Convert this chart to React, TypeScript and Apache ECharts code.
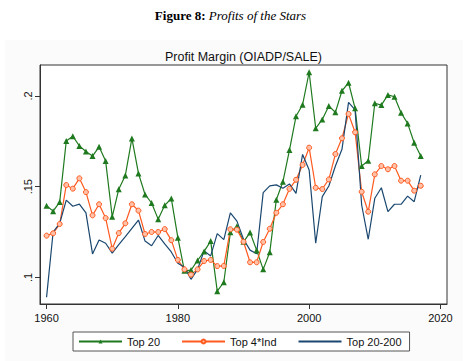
import React, { useEffect, useRef } from "react";
import * as echarts from "echarts";

const years: number[] = [];
for (let y = 1960; y <= 2017; y++) years.push(y);

const top20 = [
  0.1395, 0.1365, 0.1415, 0.1752, 0.1778, 0.1725, 0.1694, 0.1669, 0.172, 0.1641,
  0.1334, 0.1486, 0.1562, 0.1766, 0.1573, 0.1457, 0.141, 0.1321, 0.1397, 0.1435,
  0.1219, 0.1036, 0.104, 0.1093, 0.1143, 0.12, 0.0924, 0.0973, 0.1248, 0.1282,
  0.1196, 0.1247, 0.115, 0.1044, 0.1138, 0.1428, 0.1527, 0.1702, 0.1888, 0.1952,
  0.2131, 0.1822, 0.1871, 0.1945, 0.191, 0.2029, 0.2073, 0.1932, 0.1614, 0.1643,
  0.196, 0.195, 0.2006, 0.1996, 0.1908, 0.1849, 0.1742, 0.1669,
];

const top4Ind = [
  0.123, 0.1243, 0.1294, 0.1509, 0.1489, 0.1546, 0.147, 0.1342, 0.1403, 0.1327,
  0.1158, 0.1244, 0.1298, 0.1403, 0.1368, 0.1239, 0.125, 0.125, 0.1266, 0.1205,
  0.1096, 0.1044, 0.1015, 0.1044, 0.109, 0.1096, 0.1062, 0.1063, 0.1265, 0.1263,
  0.1196, 0.1083, 0.1083, 0.1195, 0.1268, 0.1356, 0.1403, 0.1488, 0.1538, 0.162,
  0.1715, 0.1494, 0.1487, 0.154, 0.168, 0.1767, 0.1901, 0.18, 0.1472, 0.1362,
  0.1568, 0.1614, 0.1596, 0.1614, 0.1533, 0.1533, 0.1478, 0.1505,
];

const top20to200 = [
  0.089, 0.125, 0.1298, 0.1426, 0.1392, 0.1404, 0.1356, 0.1129, 0.1206, 0.1188,
  0.1134, 0.118, 0.1224, 0.127, 0.1316, 0.12, 0.1174, 0.1231, 0.1184, 0.114,
  0.1078, 0.1056, 0.0989, 0.1044, 0.1146, 0.1118, 0.1241, 0.1208, 0.1355, 0.131,
  0.121, 0.115, 0.113, 0.1467, 0.1504, 0.151, 0.1491, 0.1515, 0.1463, 0.1678,
  0.1592, 0.1188, 0.1445, 0.1504, 0.1614, 0.1706, 0.1965, 0.1923, 0.1399, 0.121,
  0.1436, 0.1494, 0.1362, 0.1403, 0.1403, 0.1448, 0.1417, 0.1564,
];

const xTicks = [1960, 1980, 2000, 2020];
const yTicks = [0.1, 0.15, 0.2];
const yTickLabels = [".1", ".15", ".2"];

const GREEN = "#1f7a1f";
const ORANGE = "#ff5a1f";
const NAVY = "#1a476f";
const SANS = "Liberation Sans";

export default function App() {
  const ref = useRef<HTMLDivElement>(null);
  useEffect(() => {
    if (!ref.current) return;
    const chart = echarts.init(ref.current, undefined, { renderer: "svg" });
    const pair = (arr: number[]) => years.map((y, i) => [y, arr[i]]);
    chart.setOption({
      animation: false,
      backgroundColor: "#ffffff",
      textStyle: { fontFamily: SANS },
      graphic: [
        {
          type: "rect",
          z: -10,
          shape: { x: 5, y: 40, width: 458, height: 321 },
          style: { fill: "#fbfbfb" },
          silent: true,
        },
        {
          type: "rect",
          z: -9,
          shape: { x: 40, y: 65, width: 407, height: 239 },
          style: { fill: "#ffffff" },
          silent: true,
        },
        {
          type: "text",
          x: 230.5,
          y: 15,
          style: {
            text: "{b|Figure 8:} {i|Profits of the Stars}",
            align: "center",
            verticalAlign: "middle",
            fontFamily: "Liberation Serif",
            fontSize: 13,
            fill: "#000",
            rich: {
              b: { fontFamily: "Liberation Serif", fontSize: 13, fontWeight: "bold", fill: "#000" },
              i: { fontFamily: "Liberation Serif", fontSize: 13, fontStyle: "italic", fill: "#000" },
            },
          },
        },
        {
          type: "text",
          x: 243.5,
          y: 57,
          style: {
            text: "Profit Margin (OIADP/SALE)",
            align: "center",
            verticalAlign: "middle",
            fontFamily: SANS,
            fontSize: 12.5,
            fill: "#111",
          },
        },
      ],
      grid: {
        left: 40,
        top: 65,
        width: 407,
        height: 239,
        show: true,
        borderColor: "#333",
        borderWidth: 1,
        backgroundColor: "transparent",
      },
      legend: {
        left: 73,
        top: 332,
        orient: "horizontal",
        padding: [4, 8, 4, 5],
        itemGap: 21,
        itemWidth: 43,
        itemHeight: 5,
        borderColor: "#555",
        borderWidth: 1,
        backgroundColor: "#fff",
        textStyle: { fontFamily: SANS, fontSize: 11, color: "#111" },
        data: [
          { name: "Top 20" },
          { name: "Top 4*Ind" },
          { name: "Top 20-200", itemStyle: { opacity: 0 } },
        ],
      },
      xAxis: {
        type: "value",
        min: 1959,
        max: 2021,
        splitLine: { show: false },
        axisLine: { show: true, lineStyle: { color: "#333", width: 1 } },
        axisTick: {
          show: true,
          length: 5,
          lineStyle: { color: "#333" },
          customValues: xTicks,
        },
        axisLabel: {
          customValues: xTicks,
          fontFamily: SANS,
          fontSize: 11,
          color: "#111",
          margin: 8,
          formatter: (v: number) => String(v),
        },
      },
      yAxis: {
        type: "value",
        min: 0.0853,
        max: 0.2171,
        splitLine: { show: false },
        axisLine: { show: true, lineStyle: { color: "#333", width: 1 } },
        axisTick: {
          show: true,
          length: 5,
          lineStyle: { color: "#333" },
          customValues: yTicks,
        },
        axisLabel: {
          customValues: yTicks,
          rotate: 90,
          fontFamily: SANS,
          fontSize: 11,
          color: "#111",
          margin: 7,
          formatter: (v: number) => {
            const idx = yTicks.findIndex((t) => Math.abs(t - v) < 1e-6);
            return idx >= 0 ? yTickLabels[idx] : "";
          },
        },
      },
      series: [
        {
          name: "Top 20",
          type: "line",
          data: pair(top20),
          symbol: "triangle",
          symbolSize: 6,
          lineStyle: { color: GREEN, width: 1.2 },
          itemStyle: { color: GREEN },
        },
        {
          name: "Top 4*Ind",
          type: "line",
          data: pair(top4Ind),
          symbol: "circle",
          symbolSize: 5,
          lineStyle: { color: ORANGE, width: 1.2 },
          itemStyle: { color: "#ffc2a8", borderColor: ORANGE, borderWidth: 1 },
        },
        {
          name: "Top 20-200",
          type: "line",
          data: pair(top20to200),
          symbol: "none",
          showSymbol: false,
          lineStyle: { color: NAVY, width: 1.2 },
          itemStyle: { color: NAVY },
        },
      ],
    });
    return () => chart.dispose();
  }, []);
  return (
    <div
      ref={ref}
      style={{ position: "fixed", left: 0, top: 0, width: 468, height: 361 }}
    />
  );
}
